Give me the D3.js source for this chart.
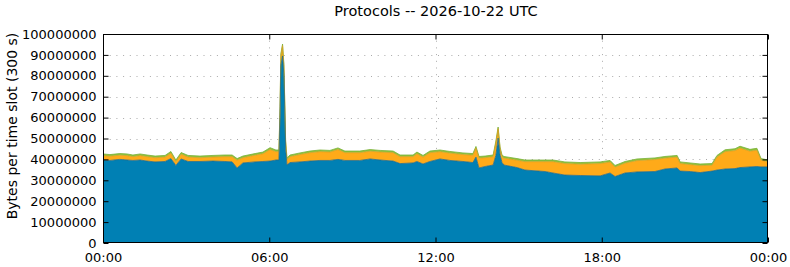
<!DOCTYPE html>
<html><head><meta charset="utf-8">
<script src="https://cdn.jsdelivr.net/npm/d3@7"></script>
<style>body{margin:0;background:#fff}svg{display:block}</style>
</head><body><svg id="c" width="790" height="267"></svg>
<script>
const title = "Protocols -- 2026-10-22 UTC";
const yLabel = "Bytes per time slot (300 s)";
const hours = [0.00,0.25,0.61,0.87,1.08,1.34,1.59,1.88,2.24,2.45,2.63,2.82,3.07,3.50,3.97,4.40,4.66,4.84,5.05,5.49,5.77,6.03,6.24,6.35,6.39,6.42,6.48,6.53,6.59,6.64,6.75,7.11,7.47,7.83,8.19,8.48,8.73,9.27,9.64,10.00,10.47,10.72,11.19,11.33,11.55,11.80,12.16,12.52,12.99,13.35,13.46,13.57,13.79,14.08,14.18,14.26,14.33,14.40,14.47,14.94,15.23,15.95,16.24,16.67,17.22,17.94,18.30,18.48,18.84,19.27,19.92,20.28,20.72,20.83,21.19,21.55,21.98,22.16,22.45,22.81,22.99,23.35,23.60,23.75,24.00];
const blue = [39.7,39.5,40.0,39.7,39.5,39.7,39.2,38.8,39.0,40.4,37.1,40.2,39.0,39.0,39.2,39.0,38.8,35.9,38.3,38.8,39.0,39.2,39.7,39.7,60.0,85.0,89.5,80.0,45.0,37.3,38.5,38.8,39.2,39.5,39.5,40.0,39.5,39.5,40.2,39.7,39.2,38.0,38.3,39.0,37.8,39.0,40.2,39.5,39.0,38.5,41.1,35.9,36.6,37.3,42.0,50.2,42.1,38.5,37.3,36.1,34.9,34.2,33.5,32.5,32.3,32.1,33.5,31.8,33.5,34.0,34.2,35.4,35.9,34.4,34.2,33.7,34.4,34.9,35.4,35.6,36.1,36.4,36.6,36.4,36.4];
const orange = [2.1,2.0,2.0,2.1,1.8,2.1,2.1,2.0,2.1,2.6,1.8,2.3,2.1,1.8,1.9,2.3,2.5,3.7,2.5,3.2,3.7,5.5,4.0,4.0,4.5,4.8,4.9,4.5,3.5,2.6,2.8,3.5,4.0,4.2,4.0,4.7,3.7,3.7,3.7,3.8,4.0,3.3,3.0,3.7,3.3,4.2,3.5,3.5,3.3,3.5,4.3,4.7,4.2,4.0,6.0,4.5,3.0,2.8,3.3,3.5,4.0,4.7,5.4,5.5,5.4,5.9,5.2,4.5,4.7,5.4,5.7,5.2,5.2,3.6,3.3,3.3,2.8,6.2,8.3,8.6,9.3,7.5,7.8,3.2,2.5];
const green = [0.8,0.8,0.8,0.8,0.8,0.8,0.8,0.8,0.8,0.8,0.8,0.8,0.8,0.8,0.8,0.8,0.8,0.8,0.8,0.8,0.8,0.9,0.8,0.8,0.8,0.8,0.8,0.8,0.8,0.8,0.8,0.8,0.8,0.8,0.8,0.8,0.8,0.8,0.8,0.8,0.8,0.8,0.8,0.8,0.8,0.8,0.8,0.8,0.8,0.8,0.8,0.8,0.8,0.8,0.8,0.8,0.8,0.8,0.8,0.8,0.8,0.8,0.8,0.8,0.8,0.8,0.8,0.8,0.8,0.8,0.8,0.8,0.8,0.8,0.8,0.8,0.8,0.8,0.9,0.9,0.9,0.9,0.9,0.8,0.8];
const yTicks = [0,10,20,30,40,50,60,70,80,90,100];
const xTicks = [0,6,12,18,24];
const xTickLabels = ["00:00","06:00","12:00","18:00","00:00"];

const m={l:103,r:768,t:34,b:243};
const svg=d3.select("#c");
const font="DejaVu Sans, sans-serif";
const x=d3.scaleLinear().domain([0,24]).range([m.l,m.r]);
const y=d3.scaleLinear().domain([0,100]).range([m.b,m.t]);

const rows=hours.map((h,i)=>({h,blue:blue[i],orange:orange[i],green:green[i]}));
const stack=d3.stack().keys(["blue","orange","green"])(rows);
const fills={blue:"#0080b4",orange:"#ffaa19",green:"#8cc43e"};
const strokes={blue:"#1f6a8c",orange:"#d8a020",green:"#78b035"};
const area=d3.area().x(d=>x(d.data.h)).y0(d=>y(d[0])).y1(d=>y(d[1]));
const line=d3.line().x(d=>x(d.data.h)).y(d=>y(d[1]));

const g=svg.append("g");
g.selectAll("line.gy").data(yTicks.slice(1,-1)).join("line")
 .attr("x1",m.l).attr("x2",m.r).attr("y1",d=>Math.round(y(d))+0.5).attr("y2",d=>Math.round(y(d))+0.5)
 .attr("stroke","#aaaaaa").attr("stroke-width",1).attr("stroke-dasharray","1,5.7");
g.selectAll("line.gx").data(xTicks.slice(1,-1)).join("line")
 .attr("x1",d=>Math.round(x(d))+0.5).attr("x2",d=>Math.round(x(d))+0.5).attr("y1",m.t).attr("y2",m.b)
 .attr("stroke","#aaaaaa").attr("stroke-width",1).attr("stroke-dasharray","1,5.7");

svg.append("g").selectAll("path.a").data(stack).join("path")
 .attr("d",area).attr("fill",d=>fills[d.key]);
svg.append("g").selectAll("path.l").data(stack.slice().reverse()).join("path")
 .attr("d",line).attr("fill","none").attr("stroke",d=>strokes[d.key]).attr("stroke-width",0.8);

svg.append("rect").attr("x",m.l+0.5).attr("y",m.t+0.5).attr("width",m.r-m.l-1).attr("height",m.b-m.t-1)
 .attr("fill","none").attr("stroke","#000").attr("stroke-width",1);

const axL=d3.axisLeft(y).tickValues(yTicks).tickSizeInner(-5).tickSizeOuter(0).tickPadding(7).tickFormat(d=>String(d*1000000));
const gl=svg.append("g").attr("transform",`translate(${m.l+0.5},0)`).call(axL);
const axR=d3.axisRight(y).tickValues(yTicks).tickSizeInner(-5).tickSizeOuter(0).tickFormat("");
const gr=svg.append("g").attr("transform",`translate(${m.r-0.5},0)`).call(axR);
const axB=d3.axisBottom(x).tickValues(xTicks).tickSizeInner(-5).tickSizeOuter(0).tickPadding(10).tickFormat((d,i)=>xTickLabels[i]);
const gb=svg.append("g").attr("transform",`translate(0,${m.b-0.5})`).call(axB);
const axT=d3.axisTop(x).tickValues(xTicks).tickSizeInner(-5).tickSizeOuter(0).tickFormat("");
const gt=svg.append("g").attr("transform",`translate(0,${m.t+0.5})`).call(axT);
[gl,gr,gb,gt].forEach(a=>{a.select(".domain").remove();a.selectAll("text").attr("font-family",font).attr("font-size",13).attr("fill","#000");a.selectAll("line").attr("stroke","#000");});

svg.append("text").attr("x",436).attr("y",16).attr("text-anchor","middle")
 .attr("font-family",font).attr("font-size",14.5).text(title);
svg.append("text").attr("transform",`translate(17,126) rotate(-90)`).attr("text-anchor","middle")
 .attr("font-family",font).attr("font-size",14).text(yLabel);
</script></body></html>
